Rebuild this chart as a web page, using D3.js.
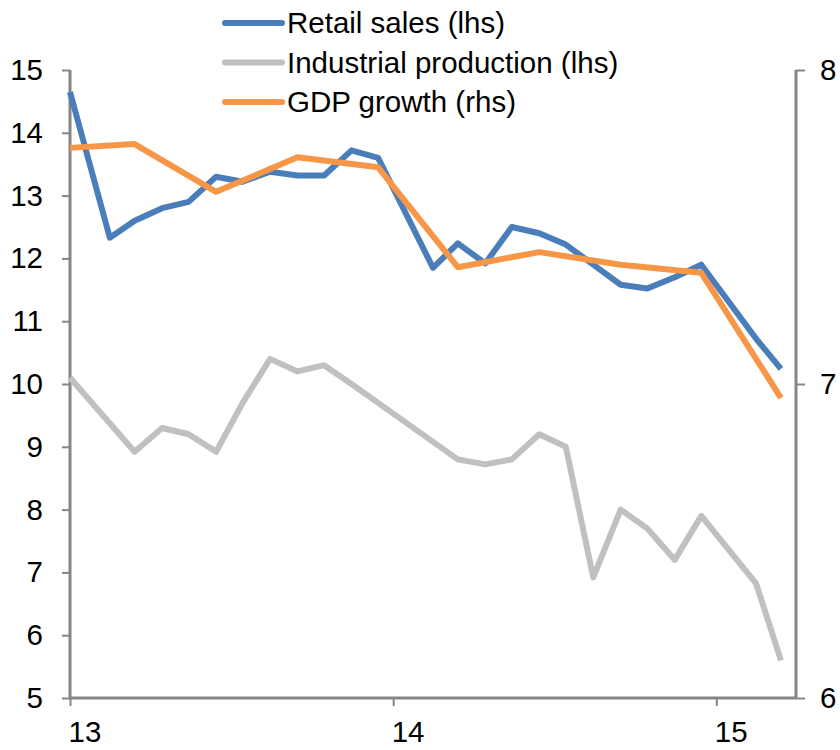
<!DOCTYPE html>
<html>
<head>
<meta charset="utf-8">
<script src="https://cdn.jsdelivr.net/npm/d3@7"></script>
<style>
  body { margin: 0; background: #fff; }
  text { font-family: "Liberation Sans", Arial, sans-serif; fill: #000; }
</style>
</head>
<body>
<svg id="chart"></svg>
<script>
// monthly points sit mid-month; first point is where the line enters the plot
const retailDates = ["2013-01-01","2013-02-15","2013-03-15","2013-04-15","2013-05-15","2013-06-15",
  "2013-07-15","2013-08-15","2013-09-15","2013-10-15","2013-11-15","2013-12-15",
  "2014-02-15","2014-03-15","2014-04-15","2014-05-15","2014-06-15","2014-07-15",
  "2014-08-15","2014-09-15","2014-10-15","2014-11-15","2014-12-15","2015-02-15","2015-03-15"];
const retailValues = [14.65, 12.33, 12.6, 12.8, 12.9, 13.3, 13.22, 13.38, 13.32, 13.32, 13.72, 13.6,
  11.85, 12.24, 11.92, 12.5, 12.4, 12.22, 11.9, 11.58, 11.52, 11.7, 11.9, 10.72, 10.24];

const ipDates = ["2013-01-01","2013-03-15","2013-04-15","2013-05-15","2013-06-15","2013-07-15",
  "2013-08-15","2013-09-15","2013-10-15","2013-11-15","2013-12-15",
  "2014-03-15","2014-04-15","2014-05-15","2014-06-15","2014-07-15","2014-08-15",
  "2014-09-15","2014-10-15","2014-11-15","2014-12-15","2015-02-15","2015-03-15"];
const ipValues = [10.1, 8.92, 9.3, 9.2, 8.92, 9.7, 10.4, 10.2, 10.3, 10.0, 9.7,
  8.8, 8.72, 8.8, 9.2, 9.0, 6.92, 8.0, 7.7, 7.2, 7.9, 6.82, 5.6];

const gdpDates = ["2013-01-01","2013-03-15","2013-06-15","2013-09-15","2013-12-15",
  "2014-03-15","2014-06-15","2014-09-15","2014-12-15","2015-03-15"];
const gdpValues = [7.752, 7.764, 7.612, 7.722, 7.69, 7.372, 7.42, 7.38, 7.354, 6.956];

const leftTicks = [5, 6, 7, 8, 9, 10, 11, 12, 13, 14, 15];
const rightTicks = [6, 7, 8];
const yearTicks = ["2013-01-01", "2014-01-01", "2015-01-01"];
const legendLabels = ["Retail sales (lhs)", "Industrial production (lhs)", "GDP growth (rhs)"];

const width = 840;
const height = 750;
const plotLeft = 70, plotRight = 796, plotTop = 70, plotBottom = 698;
const axisColor = "#868686";
const colors = ["#4a7ebb", "#c0c0c0", "#f79646"];
const fontSize = 29.5;

const parse = d3.timeParse("%Y-%m-%d");

const svg = d3.select("#chart")
    .attr("width", width)
    .attr("height", height);

svg.append("rect").attr("width", width).attr("height", height).attr("fill", "#fff");

const x = d3.scaleTime()
    .domain([parse("2013-01-01"), parse("2015-04-01")])
    .range([plotLeft, plotRight]);

const yLeft = d3.scaleLinear().domain([5, 15]).range([plotBottom, plotTop]);
const yRight = d3.scaleLinear().domain([6, 8]).range([plotBottom, plotTop]);

function toPoints(dates, values) {
    return dates.map((d, i) => ({ date: parse(d), value: values[i] }));
}

const series = [
    { pts: toPoints(ipDates, ipValues), y: yLeft, color: colors[1] },
    { pts: toPoints(retailDates, retailValues), y: yLeft, color: colors[0] },
    { pts: toPoints(gdpDates, gdpValues), y: yRight, color: colors[2] }
];

// axes
const leftAxis = svg.append("g")
    .attr("transform", `translate(${plotLeft},0)`)
    .call(d3.axisLeft(yLeft).tickValues(leftTicks).tickFormat(d3.format("d"))
        .tickSize(8).tickPadding(19));

const rightAxis = svg.append("g")
    .attr("transform", `translate(${plotRight},0)`)
    .call(d3.axisRight(yRight).tickValues(rightTicks).tickFormat(d3.format("d"))
        .tickSize(9).tickPadding(15));

const bottomAxis = svg.append("g")
    .attr("transform", `translate(0,${plotBottom})`)
    .call(d3.axisBottom(x).tickValues(yearTicks.map(parse)).tickFormat(d3.timeFormat("%y"))
        .tickSize(8).tickPadding(15));

[leftAxis, rightAxis, bottomAxis].forEach(g => {
    g.select(".domain").attr("stroke", axisColor).attr("stroke-width", 3);
    g.selectAll(".tick line").attr("stroke", axisColor).attr("stroke-width", 2);
    g.selectAll(".tick text")
        .attr("font-size", fontSize)
        .attr("font-family", "Liberation Sans, Arial, sans-serif")
        .attr("fill", "#000");
});
leftAxis.select(".domain").attr("d", `M0,${plotBottom}V${plotTop}`);
rightAxis.select(".domain").attr("d", `M0,${plotBottom}V${plotTop}`);
bottomAxis.select(".domain").attr("d", `M${plotLeft},0H${plotRight}`);
bottomAxis.selectAll(".tick text").attr("text-anchor", "start").attr("dx", -2);

// lines
series.forEach(s => {
    const line = d3.line()
        .x(d => x(d.date))
        .y(d => s.y(d.value));
    svg.append("path")
        .datum(s.pts)
        .attr("fill", "none")
        .attr("stroke", s.color)
        .attr("stroke-width", 6)
        .attr("stroke-linejoin", "round")
        .attr("d", line);
});

// legend
const legend = svg.append("g").attr("transform", "translate(222,23)");
legendLabels.forEach((label, i) => {
    const row = legend.append("g").attr("transform", `translate(0,${i * 39.5})`);
    row.append("line")
        .attr("x1", 3).attr("x2", 60)
        .attr("stroke", colors[i])
        .attr("stroke-width", 6)
        .attr("stroke-linecap", "round");
    row.append("text")
        .attr("x", 65)
        .attr("dy", "0.35em")
        .attr("font-size", fontSize)
        .text(label);
});
</script>
</body>
</html>
